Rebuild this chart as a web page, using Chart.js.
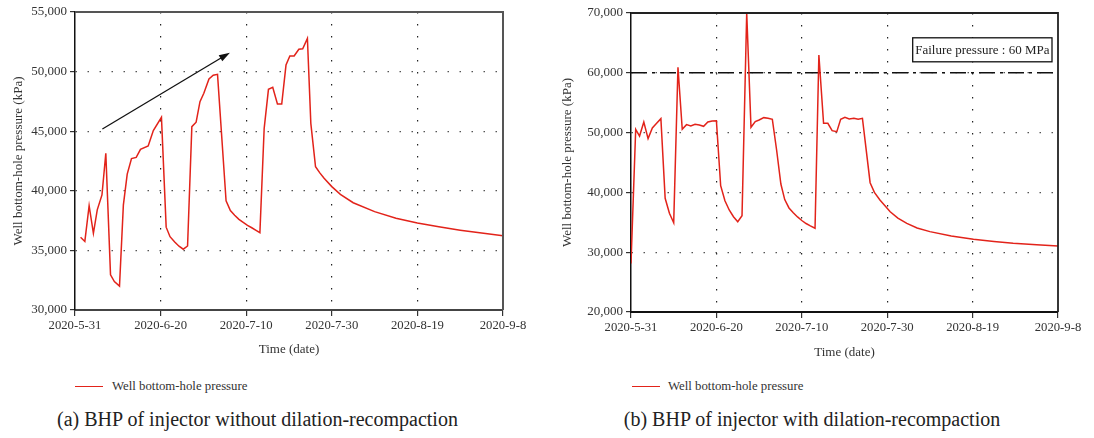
<!DOCTYPE html>
<html>
<head>
<meta charset="utf-8">
<script src="https://cdn.jsdelivr.net/npm/chart.js@4.4.1/dist/chart.umd.min.js"></script>
<style>
  html, body { margin: 0; padding: 0; background: #fff; }
  body { width: 1094px; height: 438px; position: relative; overflow: hidden;
         font-family: "Liberation Serif", "DejaVu Serif", serif; color: #333; }
  .panel { position: absolute; top: 0; width: 547px; height: 438px; }
  .panel canvas { position: absolute; left: 0; top: 0; }
  .legend { position: absolute; top: 378px; height: 16px; font-size: 12.8px; line-height: 16px; white-space: nowrap; }
  .legend .swatch { position: absolute; top: 8px; width: 28px; height: 0; border-top: 1.5px solid #e2231a; }
  .legend .label { position: absolute; top: 0; }
  .caption { position: absolute; top: 407px; left: 0; font-size: 20px; line-height: 24px; text-align: center; white-space: nowrap; color: #222; }
</style>
</head>
<body>
<div class="panel" style="left:0">
  <canvas id="chartA" width="547" height="365"></canvas>
  <div class="legend"><span class="swatch" style="left:75px"></span><span class="label" style="left:112px">Well bottom-hole pressure</span></div>
  <div class="caption" style="width:515px">(a) BHP of injector without dilation-recompaction</div>
</div>
<div class="panel" style="left:547px">
  <canvas id="chartB" width="547" height="365"></canvas>
  <div class="legend"><span class="swatch" style="left:85px"></span><span class="label" style="left:121px">Well bottom-hole pressure</span></div>
  <div class="caption" style="width:530px">(b) BHP of injector with dilation-recompaction</div>
</div>
<script>
// days after 2020-5-31
const daysA = [1.3, 2.3, 3.3, 4.3, 5.2, 6.3, 7.2, 8.3, 9.2, 10.4, 11.3, 12.2, 13.2, 14.3, 15.3, 17.1, 18.3, 20.2,
  21.3, 22.2, 23.3, 24.3, 25.3, 26.3, 27.3, 28.3, 29.2, 30.1, 31.3, 32.3, 33.3,
  35.3, 36.3, 37.3, 38.3, 39.3, 40.3, 41.3, 42.3, 43.2, 44.2, 45.2, 46.2, 47.3, 48.3, 49.3, 50.2, 51.2, 52.3, 53.2, 54.3,
  55.1, 56.2, 57.2, 58.2, 60, 62, 65, 70, 75, 80, 85, 90, 95, 100];
const bhpA = [36100, 35750, 38750, 36430, 38400, 39650, 43150, 32950, 32380, 32000, 38800, 41400, 42700, 42800, 43480, 43760, 45050, 46170,
  36950, 36150, 35700, 35350, 35100, 35370, 45380, 45750, 47480, 48180, 49380, 49690, 49770,
  39150, 38350, 37950, 37600, 37350, 37100, 36900, 36680, 36490, 45240, 48510, 48680, 47280, 47280, 50550, 51310, 51310, 51870, 51920, 52790,
  45660, 42020, 41500, 41050, 40350, 39700, 39000, 38250, 37700, 37300, 36980, 36700, 36450, 36230];

const daysB = [0, 1.1, 2, 3, 4, 5, 6, 7, 8, 9, 10, 11, 12, 13, 14, 15, 16, 17, 18, 19, 20,
  21, 22, 23, 24, 25, 26, 27.1, 28.1, 29.1, 30, 31.1, 32.1, 33.1, 34.1,
  35.1, 36, 37, 38, 39, 40, 41, 42, 43.1, 44, 45.1, 46.1, 47.1, 48.2, 49.1, 50.1, 51.1, 52.2, 53.2, 54.2,
  56, 57, 58.3, 60.7, 62.5, 64.6, 67, 70, 75, 80.2, 85, 89.5, 95, 100];
const bhpB = [28100, 50550, 49430, 51770, 48990, 50770, 51550, 52330, 39010, 36500, 34930, 60920, 50550, 51330, 51100, 51380, 51270, 51050, 51770, 51940, 51990,
  41120, 38610, 37060, 35940, 35100, 36100, 70000, 50890, 51830, 52110, 52500, 52390, 52220, 47090,
  41400, 38800, 37400, 36600, 35900, 35300, 34800, 34400, 34000, 62980, 51560, 51560, 50320, 50150, 52220, 52560, 52270, 52390, 52220, 52390,
  41620, 40000, 38730, 36770, 35700, 34830, 34050, 33440, 32700, 32160, 31800, 31490, 31250, 31040];

const failurePressure = 60000;
const failureLabel = 'Failure pressure : 60 MPa';
const trendArrowFrom = [6.4, 45180];
const trendArrowTo = [36.2, 51590];

const startDate = Date.UTC(2020, 4, 31);
function dayLabel(v) {
  const d = new Date(startDate + v * 86400000);
  return d.getUTCFullYear() + '-' + (d.getUTCMonth() + 1) + '-' + d.getUTCDate();
}
function points(days, vals) {
  return days.map((d, i) => ({ x: d, y: vals[i] }));
}

const FONT = '"Liberation Serif", "DejaVu Serif", serif';
const RED = '#e2231a';

const framePlugin = {
  id: 'frame',
  afterDatasetsDraw(chart, args, opts) {
    const a = chart.chartArea, ctx = chart.ctx;
    ctx.save();
    ctx.strokeStyle = opts.color;
    ctx.lineWidth = opts.width;
    ctx.beginPath();
    ctx.moveTo(a.left, a.top);
    ctx.lineTo(a.right, a.top);
    ctx.lineTo(a.right, a.bottom);
    ctx.stroke();
    ctx.restore();
  }
};

const arrowPlugin = {
  id: 'trendArrow',
  afterDatasetsDraw(chart, args, opts) {
    if (!opts.from) return;
    const xs = chart.scales.x, ys = chart.scales.y, ctx = chart.ctx;
    const x1 = xs.getPixelForValue(opts.from[0]), y1 = ys.getPixelForValue(opts.from[1]);
    const x2 = xs.getPixelForValue(opts.to[0]), y2 = ys.getPixelForValue(opts.to[1]);
    const ang = Math.atan2(y2 - y1, x2 - x1);
    ctx.save();
    ctx.strokeStyle = '#111';
    ctx.fillStyle = '#111';
    ctx.lineWidth = 1.3;
    ctx.beginPath();
    ctx.moveTo(x1, y1);
    ctx.lineTo(x2 - 8 * Math.cos(ang), y2 - 8 * Math.sin(ang));
    ctx.stroke();
    ctx.beginPath();
    ctx.moveTo(x2, y2);
    ctx.lineTo(x2 - 11 * Math.cos(ang) + 3.5 * Math.sin(ang), y2 - 11 * Math.sin(ang) - 3.5 * Math.cos(ang));
    ctx.lineTo(x2 - 11 * Math.cos(ang) - 3.5 * Math.sin(ang), y2 - 11 * Math.sin(ang) + 3.5 * Math.cos(ang));
    ctx.closePath();
    ctx.fill();
    ctx.restore();
  }
};

const failureBoxPlugin = {
  id: 'failureBox',
  afterDatasetsDraw(chart, args, opts) {
    if (!opts.text) return;
    const a = chart.chartArea, ctx = chart.ctx;
    const yLine = chart.scales.y.getPixelForValue(opts.value);
    ctx.save();
    ctx.font = '13px ' + FONT;
    const w = ctx.measureText(opts.text).width + 5;
    const right = a.right - 6, bottom = yLine - 11, h = 24;
    ctx.fillStyle = '#fff';
    ctx.fillRect(right - w, bottom - h, w, h);
    ctx.strokeStyle = '#111';
    ctx.lineWidth = 1.3;
    ctx.strokeRect(right - w, bottom - h, w, h);
    ctx.fillStyle = '#222';
    ctx.textBaseline = 'middle';
    ctx.fillText(opts.text, right - w + 2.5, bottom - h / 2 + 1);
    ctx.restore();
  }
};

function makeChart(id, cfg) {
  const edge = c => (c.tick && (c.tick.value === cfg.yMin || c.tick.value === cfg.yMax)) ? 'rgba(0,0,0,0)' : '#555';
  const edgeX = c => (c.tick && (c.tick.value === 0 || c.tick.value === 100)) ? 'rgba(0,0,0,0)' : '#222';
  return new Chart(document.getElementById(id), {
    type: 'line',
    data: { datasets: cfg.datasets },
    options: {
      responsive: false,
      animation: false,
      layout: { padding: { top: cfg.top, right: cfg.right, left: 0, bottom: 0 } },
      plugins: {
        legend: { display: false },
        tooltip: { enabled: false },
        frame: cfg.frame,
        trendArrow: cfg.arrow || {},
        failureBox: cfg.failure || {}
      },
      scales: {
        x: {
          type: 'linear', min: 0, max: 100,
          afterFit: s => { s.height = cfg.xHeight; },
          ticks: { stepSize: 20, autoSkip: false, maxRotation: 0, padding: 2, color: '#333',
                   font: { family: FONT, size: 12.7 }, callback: v => dayLabel(v) },
          grid: { color: edgeX, lineWidth: 1.2, tickLength: 6, tickColor: '#333', tickWidth: 1.2 },
          border: { display: true, color: cfg.xAxisColor, width: 2, dash: [1.5, 10.5] },
          title: { display: true, text: 'Time (date)', color: '#333', font: { family: FONT, size: 13 },
                   padding: { top: 0, bottom: cfg.xTitlePad } }
        },
        y: {
          min: cfg.yMin, max: cfg.yMax,
          afterFit: s => { s.width = cfg.yWidth; },
          ticks: { stepSize: cfg.yStep, padding: 3, color: '#333', font: { family: FONT, size: 13 },
                   callback: v => v.toLocaleString('en-US') },
          grid: { color: edge, lineWidth: 1.2, tickLength: 5, tickColor: '#333', tickWidth: 1.2 },
          border: { display: true, color: '#111', width: 1.5, dash: [1.5, 10.5] },
          title: { display: true, text: 'Well bottom-hole pressure (kPa)', color: '#333',
                   font: { family: FONT, size: 13 }, padding: { top: cfg.yTitlePad, bottom: 0 } }
        }
      }
    },
    plugins: [framePlugin, arrowPlugin, failureBoxPlugin]
  });
}

const bhpStyle = { borderColor: RED, backgroundColor: RED, borderWidth: 1.5, pointRadius: 0, tension: 0, fill: false };

makeChart('chartA', {
  datasets: [Object.assign({ label: 'Well bottom-hole pressure', data: points(daysA, bhpA) }, bhpStyle)],
  yMin: 30000, yMax: 55000, yStep: 5000,
  top: 12, right: 44, yWidth: 75, xHeight: 55,
  xTitlePad: 8, yTitlePad: 10.5, xAxisColor: '#444',
  frame: { color: '#555', width: 2 },
  arrow: { from: trendArrowFrom, to: trendArrowTo }
});

makeChart('chartB', {
  datasets: [
    Object.assign({ label: 'Well bottom-hole pressure', data: points(daysB, bhpB) }, bhpStyle),
    { label: 'Failure pressure', data: [{ x: 0, y: failurePressure }, { x: 100, y: failurePressure }],
      borderColor: '#111', borderWidth: 1.5, borderDash: [16, 5, 3, 5], pointRadius: 0, fill: false }
  ],
  yMin: 20000, yMax: 70000, yStep: 10000,
  top: 13, right: 36, yWidth: 84, xHeight: 53,
  xTitlePad: 5, yTitlePad: 13, xAxisColor: '#111',
  frame: { color: '#222', width: 1.8 },
  failure: { value: failurePressure, text: failureLabel }
});
</script>
</body>
</html>
